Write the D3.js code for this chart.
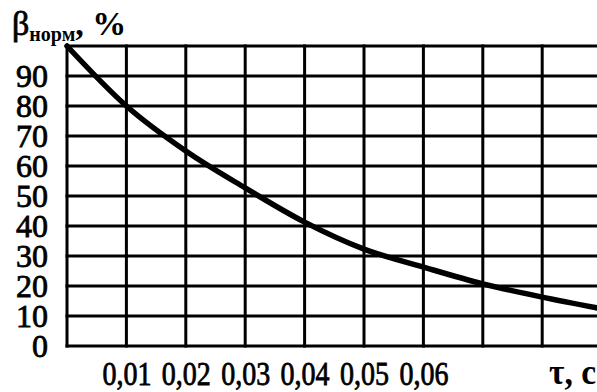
<!DOCTYPE html>
<html>
<head>
<meta charset="utf-8">
<script src="https://cdn.jsdelivr.net/npm/d3@7"></script>
<style>
  html, body { margin: 0; padding: 0; background: #fff; }
  svg { display: block; }
  text { font-family: "Liberation Serif", "Times New Roman", serif; fill: #000; }
</style>
</head>
<body>
<svg id="chart" width="597" height="392"></svg>
<script>
// Normalised coefficient vs. time
const timeValues = [0, 0.01, 0.02, 0.03, 0.04, 0.05, 0.06, 0.07, 0.08, 0.09];
const betaValues = [100, 80, 65, 52.7, 41.3, 32.3, 26.3, 20.7, 16.3, 12.4];

const xGridTicks = [0, 0.01, 0.02, 0.03, 0.04, 0.05, 0.06, 0.07, 0.08];
const xLabelTicks = [0.01, 0.02, 0.03, 0.04, 0.05, 0.06];
const yGridTicks = [0, 10, 20, 30, 40, 50, 60, 70, 80, 90, 100];
const yLabelTicks = [0, 10, 20, 30, 40, 50, 60, 70, 80, 90];

const svg = d3.select("#chart");
const plotLeft = 67, plotTop = 46, plotBottom = 346;

const x = d3.scaleLinear().domain([0, 0.09]).range([plotLeft, plotLeft + 9 * 59.4]);
const y = d3.scaleLinear().domain([0, 100]).range([plotBottom, plotTop]);

// grid
const grid = svg.append("g").attr("stroke", "#000").attr("stroke-width", 3);
grid.selectAll("line.h").data(yGridTicks).join("line")
  .attr("class", "h")
  .attr("x1", plotLeft - 1.5).attr("x2", 600)
  .attr("y1", d => y(d)).attr("y2", d => y(d));
grid.selectAll("line.v").data(xGridTicks).join("line")
  .attr("class", "v")
  .attr("x1", d => x(d)).attr("x2", d => x(d))
  .attr("y1", plotTop - 1.5).attr("y2", plotBottom + 1.5);

// curve
const line = d3.line()
  .x((d, i) => x(timeValues[i]))
  .y(d => y(d))
  .curve(d3.curveMonotoneX);
svg.append("path")
  .datum(betaValues)
  .attr("d", line)
  .attr("fill", "none")
  .attr("stroke", "#000")
  .attr("stroke-width", 5.5)
  .attr("stroke-linecap", "round");

// y axis labels
const yAxis = svg.append("g")
  .attr("transform", `translate(${plotLeft},0)`)
  .call(d3.axisLeft(y).tickValues(yLabelTicks).tickSize(0).tickPadding(19).tickFormat(d3.format("d")));
yAxis.select(".domain").remove();
yAxis.selectAll("text")
  .attr("font-family", "Liberation Serif, serif")
  .attr("font-size", 32)
  .attr("dy", "0.34em")
  .attr("stroke", "#000").attr("stroke-width", 0.8);

// x axis labels
const xAxis = svg.append("g")
  .attr("transform", `translate(0,${plotBottom})`)
  .call(d3.axisBottom(x).tickValues(xLabelTicks).tickSize(0)
    .tickFormat(d => d3.format(".2f")(d).replace(".", ",")));
xAxis.select(".domain").remove();
xAxis.selectAll("text")
  .attr("font-family", "Liberation Serif, serif")
  .attr("font-size", 33)
  .attr("dy", null)
  .attr("y", 39)
  .attr("textLength", 49)
  .attr("lengthAdjust", "spacingAndGlyphs")
  .attr("stroke", "#000").attr("stroke-width", 0.8);

// axis titles
svg.append("text")
  .attr("x", 596).attr("y", 384)
  .attr("text-anchor", "end")
  .attr("font-size", 35)
  .attr("font-weight", "bold")
  .attr("textLength", 47)
  .attr("lengthAdjust", "spacingAndGlyphs")
  .text("τ, c");

const yTitle = svg.append("text").attr("x", 12).attr("y", 35);
yTitle.append("tspan").attr("font-size", 34).attr("stroke", "#000").attr("stroke-width", 0.8).text("β");
yTitle.append("tspan").attr("font-size", 20).attr("font-weight", "bold").attr("dy", 6).text("норм");
yTitle.append("tspan").attr("font-size", 34).attr("font-weight", "bold").attr("dy", -6).text(", %");
</script>
</body>
</html>
